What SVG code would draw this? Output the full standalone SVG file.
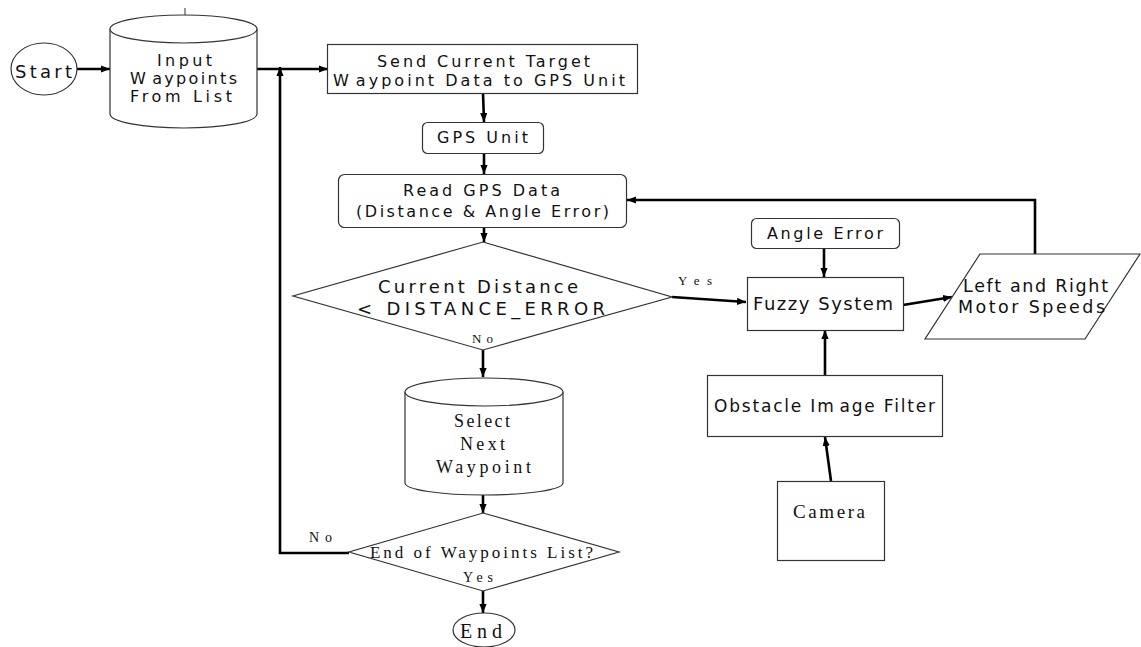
<svg xmlns="http://www.w3.org/2000/svg" width="1141" height="647" viewBox="0 0 1141 647">
  <style>
    .shape { fill: #ffffff; stroke: #333333; stroke-width: 1.2; }
    .edge { fill: none; stroke: #000000; stroke-width: 2.6; }
    .sans { font-family: "DejaVu Sans", Verdana, sans-serif; fill: #111111; }
    .serif { font-family: "Liberation Serif", "Times New Roman", serif; fill: #111111; }
  </style>
  <defs>
    <marker id="arrow" viewBox="0 0 10 8" refX="10" refY="4" markerWidth="9" markerHeight="7.5" markerUnits="userSpaceOnUse" orient="auto">
      <path d="M0,0 L10,4 L0,8 Z" fill="#000000"/>
    </marker>
  </defs>

  <rect width="1141" height="647" fill="#ffffff"/>

  <!-- connectors -->
  <g id="connectors">
    <line class="edge" x1="77" y1="69" x2="110" y2="69" marker-end="url(#arrow)"/>
    <line class="edge" x1="257" y1="69" x2="328" y2="69" marker-end="url(#arrow)"/>
    <line class="edge" x1="483" y1="93" x2="484" y2="122" marker-end="url(#arrow)"/>
    <line class="edge" x1="484" y1="153" x2="484" y2="174" marker-end="url(#arrow)"/>
    <line class="edge" x1="484" y1="227" x2="484" y2="242" marker-end="url(#arrow)"/>
    <line class="edge" x1="672" y1="297" x2="746" y2="302" stroke-width="2" marker-end="url(#arrow)"/>
    <line class="edge" x1="483" y1="350" x2="483" y2="377" marker-end="url(#arrow)"/>
    <line class="edge" x1="483" y1="495" x2="483" y2="513" marker-end="url(#arrow)"/>
    <line class="edge" x1="483" y1="591" x2="483" y2="613" marker-end="url(#arrow)"/>
    <polyline class="edge" points="349,553 280,553 280,67" stroke-width="3" marker-end="url(#arrow)"/>
    <line class="edge" x1="824" y1="248" x2="824" y2="277" marker-end="url(#arrow)"/>
    <line class="edge" x1="903" y1="305" x2="952" y2="297" marker-end="url(#arrow)"/>
    <polyline class="edge" points="1035,254 1035,200 627,200" stroke-width="3" marker-end="url(#arrow)"/>
    <line class="edge" x1="825" y1="375" x2="825" y2="330" marker-end="url(#arrow)"/>
    <line class="edge" x1="831" y1="481" x2="825" y2="437" marker-end="url(#arrow)"/>
  </g>

  <!-- start terminator -->
  <g id="start">
    <ellipse class="shape" cx="44" cy="69" rx="33" ry="26"/>
    <text class="sans" x="15" y="78" font-size="18" textLength="57" lengthAdjust="spacing">Start</text>
  </g>

  <!-- waypoint list input -->
  <g id="input-waypoints">
    <line x1="185" y1="8" x2="185" y2="15" stroke="#333333" stroke-width="1"/>
    <path class="shape" d="M110,29 A73.5,14 0 0 1 257,29 L257,114 A73.5,14 0 0 1 110,114 Z"/>
    <path class="shape" fill="none" d="M110,29 A73.5,14 0 0 0 257,29"/>
    <text class="sans" x="157" y="66" font-size="16" textLength="55" lengthAdjust="spacing">Input</text>
    <text class="sans" x="130" y="84" font-size="16" textLength="107" lengthAdjust="spacing">W<tspan dx="5">aypoints</tspan></text>
    <text class="sans" x="130" y="102" font-size="16" textLength="102" lengthAdjust="spacing">From List</text>
  </g>

  <!-- send target to GPS -->
  <g id="send-target">
    <rect class="shape" x="327.5" y="44.5" width="310" height="49"/>
    <text class="sans" x="377" y="67" font-size="16" textLength="213" lengthAdjust="spacing">Send Current Target</text>
    <text class="sans" x="333" y="86" font-size="16" textLength="292" lengthAdjust="spacing">W<tspan dx="5">aypoint Data to GPS Unit</tspan></text>
  </g>

  <!-- GPS unit -->
  <g id="gps-unit">
    <rect class="shape" x="422.5" y="122.5" width="121" height="31" rx="5"/>
    <text class="sans" x="437" y="143" font-size="16" textLength="91" lengthAdjust="spacing">GPS Unit</text>
  </g>

  <!-- read GPS data -->
  <g id="read-gps">
    <rect class="shape" x="338.5" y="174.5" width="288" height="53" rx="6"/>
    <text class="sans" x="403" y="196" font-size="16" textLength="157" lengthAdjust="spacing">Read GPS Data</text>
    <text class="sans" x="356" y="217" font-size="16" textLength="253" lengthAdjust="spacing">(Distance &amp; Angle Error)</text>
  </g>

  <!-- distance decision -->
  <g id="distance-check">
    <polygon class="shape" points="483,242 672,297 483,350 293,296"/>
    <text class="sans" x="378" y="293" font-size="18" textLength="200" lengthAdjust="spacing">Current Distance</text>
    <text class="sans" x="357" y="315" font-size="18" textLength="248" lengthAdjust="spacing">&lt; DISTANCE_ERROR</text>
    <text class="serif" x="678" y="285" font-size="13" textLength="34" lengthAdjust="spacing">Yes</text>
    <text class="serif" x="472" y="343" font-size="13" textLength="21" lengthAdjust="spacing">No</text>
  </g>

  <!-- select next waypoint -->
  <g id="select-next">
    <path class="shape" d="M405,392 A79,14 0 0 1 563,392 L563,483 A79,12 0 0 1 405,483 Z"/>
    <path class="shape" fill="none" d="M405,392 A79,14 0 0 0 563,392"/>
    <text class="serif" x="454" y="427" font-size="18" textLength="56" lengthAdjust="spacing">Select</text>
    <text class="serif" x="460" y="450" font-size="18" textLength="45" lengthAdjust="spacing">Next</text>
    <text class="serif" x="436" y="473" font-size="18" textLength="95" lengthAdjust="spacing">Waypoint</text>
  </g>

  <!-- end of list decision -->
  <g id="end-of-list">
    <polygon class="shape" points="483,513 619,552 483,591 349,552"/>
    <text class="serif" x="370" y="558" font-size="17" textLength="223" lengthAdjust="spacing">End of Waypoints List?</text>
    <text class="serif" x="463" y="582" font-size="14" textLength="30" lengthAdjust="spacing">Yes</text>
    <text class="serif" x="309" y="542" font-size="14" textLength="23" lengthAdjust="spacing">No</text>
  </g>

  <!-- end terminator -->
  <g id="end">
    <ellipse class="shape" cx="484" cy="630" rx="31" ry="17"/>
    <text class="serif" x="460" y="638" font-size="20" textLength="42" lengthAdjust="spacing">End</text>
  </g>

  <!-- angle error input -->
  <g id="angle-error">
    <rect class="shape" x="751.5" y="218.5" width="148" height="30" rx="5"/>
    <text class="sans" x="767" y="239" font-size="16" textLength="116" lengthAdjust="spacing">Angle Error</text>
  </g>

  <!-- fuzzy controller -->
  <g id="fuzzy-system">
    <rect class="shape" x="747.5" y="277.5" width="156" height="53"/>
    <text class="sans" x="753" y="310" font-size="18" textLength="140" lengthAdjust="spacing">Fuzzy System</text>
  </g>

  <!-- motor speed output -->
  <g id="motor-speeds">
    <polygon class="shape" points="980,254 1140,254 1085,339 925,339"/>
    <text class="sans" x="963" y="292" font-size="17.5" textLength="145" lengthAdjust="spacing">Left and Right</text>
    <text class="sans" x="958" y="313" font-size="17.5" textLength="147" lengthAdjust="spacing">Motor Speeds</text>
  </g>

  <!-- obstacle filter -->
  <g id="obstacle-filter">
    <rect class="shape" x="707.5" y="375.5" width="235" height="61"/>
    <text class="sans" x="714" y="412" font-size="17" textLength="221" lengthAdjust="spacing">Obstacle Im<tspan dx="4">age Filter</tspan></text>
  </g>

  <!-- camera -->
  <g id="camera">
    <rect class="shape" x="777.5" y="481.5" width="107" height="79"/>
    <text class="serif" x="793" y="518" font-size="19" textLength="72" lengthAdjust="spacing">Camera</text>
  </g>
</svg>
